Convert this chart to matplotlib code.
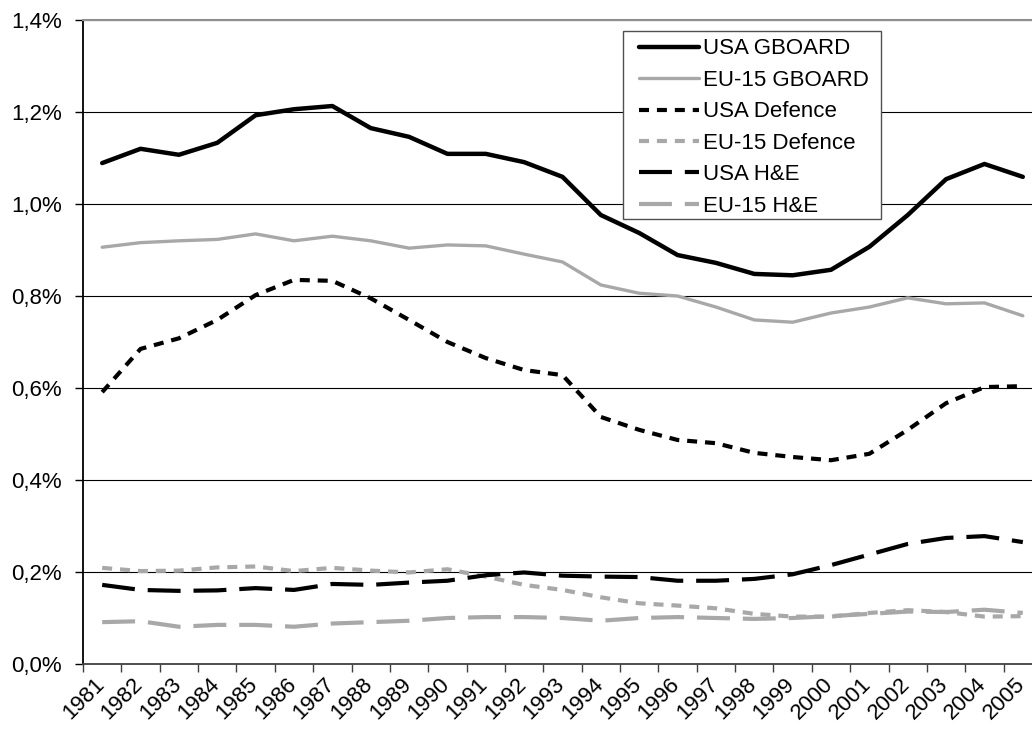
import matplotlib
matplotlib.use("Agg")
import matplotlib.pyplot as plt
from matplotlib.ticker import FixedLocator, FuncFormatter
from matplotlib.patches import Rectangle
import matplotlib.transforms as mtransforms

years = [str(y) for y in range(1981, 2006)]

usa_gboard = [1.089, 1.120, 1.107, 1.133, 1.193, 1.206, 1.213, 1.165, 1.146, 1.109,
              1.109, 1.091, 1.059, 0.976, 0.937, 0.889, 0.872, 0.848, 0.845, 0.857,
              0.907, 0.976, 1.054, 1.087, 1.059]
eu_gboard = [0.906, 0.916, 0.920, 0.923, 0.935, 0.920, 0.930, 0.920, 0.904, 0.911,
             0.909, 0.891, 0.874, 0.824, 0.806, 0.800, 0.776, 0.748, 0.743, 0.763,
             0.776, 0.796, 0.783, 0.785, 0.757]
usa_defence = [0.591, 0.685, 0.708, 0.748, 0.802, 0.835, 0.833, 0.795, 0.748, 0.700,
               0.665, 0.639, 0.628, 0.537, 0.509, 0.487, 0.480, 0.459, 0.450, 0.443,
               0.457, 0.509, 0.567, 0.602, 0.604]
eu_defence = [0.209, 0.202, 0.203, 0.210, 0.212, 0.202, 0.209, 0.203, 0.199, 0.206,
              0.190, 0.172, 0.161, 0.145, 0.132, 0.127, 0.121, 0.109, 0.103, 0.103,
              0.111, 0.117, 0.113, 0.103, 0.104]
usa_he = [0.172, 0.161, 0.159, 0.160, 0.165, 0.161, 0.174, 0.172, 0.177, 0.181,
          0.193, 0.199, 0.192, 0.190, 0.189, 0.181, 0.181, 0.185, 0.195, 0.215,
          0.238, 0.261, 0.274, 0.278, 0.265]
eu_he = [0.091, 0.093, 0.081, 0.085, 0.085, 0.081, 0.088, 0.091, 0.094, 0.100,
         0.102, 0.102, 0.100, 0.094, 0.100, 0.102, 0.100, 0.098, 0.100, 0.104,
         0.109, 0.114, 0.113, 0.118, 0.111]

yticks = [0.0, 0.2, 0.4, 0.6, 0.8, 1.0, 1.2, 1.4]

plt.rcParams['font.family'] = ['Liberation Sans', 'DejaVu Sans']

W, H = 1032, 733
fig = plt.figure(figsize=(W / 100, H / 100), dpi=100)
ax = fig.add_axes([83 / W, (H - 664) / H, 959 / W, 644 / H])

x = list(range(len(years)))
GRAY = '#a8a8a8'
series = [
    (usa_gboard, 'USA GBOARD', 'black', 3.2, None),
    (eu_gboard, 'EU-15 GBOARD', GRAY, 2.4, None),
    (usa_defence, 'USA Defence', 'black', 3.0, (2.4, 1.9)),
    (eu_defence, 'EU-15 Defence', GRAY, 3.0, (2.4, 1.9)),
    (usa_he, 'USA H&E', 'black', 3.0, (7.9, 3.1)),
    (eu_he, 'EU-15 H&E', GRAY, 3.0, (7.9, 3.1)),
]
for vals, lab, col, lw, dash in series:
    if dash is None:
        ax.plot(x, vals, color=col, lw=lw, label=lab, solid_joinstyle='round',
                solid_capstyle='round')
    else:
        ax.plot(x, vals, color=col, lw=lw, label=lab, dashes=dash,
                dash_capstyle='butt', dash_joinstyle='round')

ax.set_xlim(-0.5, len(years) - 0.5)
ax.set_ylim(0, 1.4)
ax.set_yticks(yticks)
ax.yaxis.set_major_formatter(FuncFormatter(lambda v, p: f"{v:.1f}%".replace('.', ',')))
ax.grid(axis='y', color='black', lw=0.8)
ax.set_axisbelow(True)

# category axis: tick marks between categories, labels at centres
ax.xaxis.set_major_locator(FixedLocator([i - 0.5 for i in range(len(years) + 1)]))
ax.xaxis.set_major_formatter(FuncFormatter(lambda v, p: ''))
ax.xaxis.set_minor_locator(FixedLocator(x))
ax.set_xticklabels(years, minor=True)
ax.tick_params(axis='x', which='major', direction='out', length=6, width=1, color='#404040')
ax.tick_params(axis='x', which='minor', length=0, pad=10, labelsize=16)
off = mtransforms.ScaledTranslation(-1 / 100, -3 / 100, fig.dpi_scale_trans)
for t in ax.get_xticklabels(minor=True):
    t.set_rotation(45)
    t.set_ha('right')
    t.set_va('center')
    t.set_rotation_mode('anchor')
    t.set_transform(t.get_transform() + off)
ax.tick_params(axis='y', direction='out', length=6, width=1, pad=9, labelsize=16)

ax.spines['right'].set_visible(False)
ax.spines['top'].set_color('#909090')
ax.spines['top'].set_linewidth(1.5)
ax.spines['left'].set_color('black')
ax.spines['left'].set_linewidth(1.3)
ax.spines['bottom'].set_color('#404040')
ax.spines['bottom'].set_linewidth(1.3)

# legend box
ax.add_patch(Rectangle((623 / W, 1 - 219 / H), (881 - 623) / W, (219 - 31) / H,
                       transform=fig.transFigure, facecolor='white',
                       edgecolor='#505050', lw=1.0, zorder=4, clip_on=False))
leg = ax.legend(loc='upper left', bbox_to_anchor=(635 / W, 1 - 34 / H),
                bbox_transform=fig.transFigure, borderaxespad=0,
                fontsize=16, frameon=False, handlelength=2.7,
                handletextpad=0.15, labelspacing=0.47, borderpad=0.2)
leg.set_zorder(6)

fig.savefig('out.png', dpi=100)
